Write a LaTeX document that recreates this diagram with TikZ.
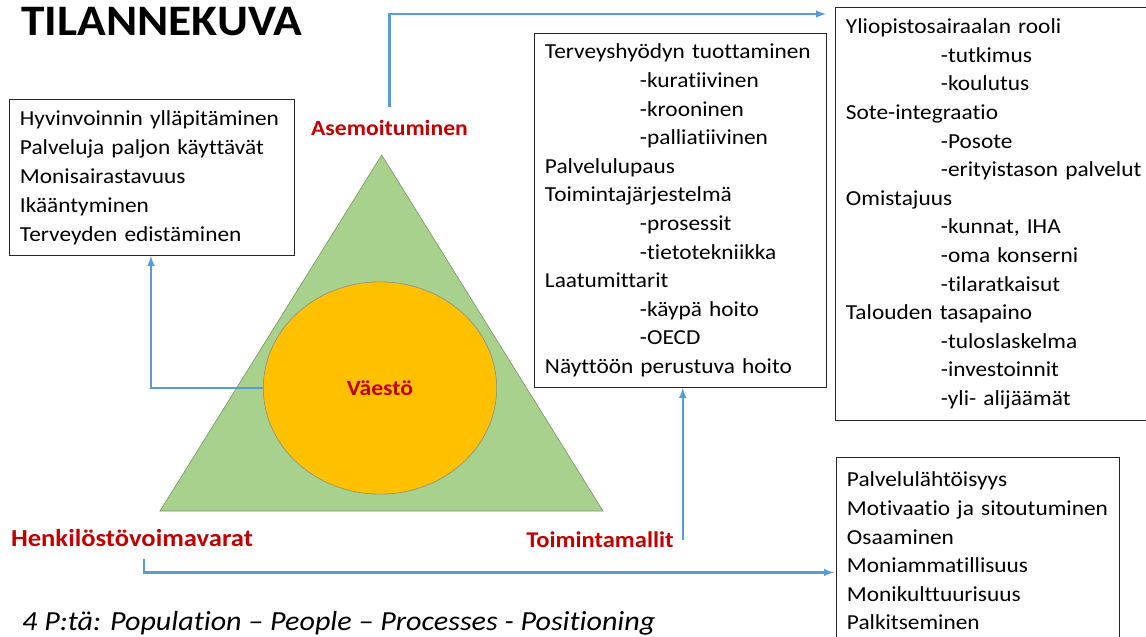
\documentclass[tikz,border=0pt]{standalone}
\usepackage{fontspec}
\setmainfont{Carlito}[FakeStretch=1.09,Ligatures={TeX,NoCommon}]
\usetikzlibrary{shapes.geometric}
\definecolor{labelred}{HTML}{C00000}
\definecolor{linkblue}{HTML}{5B9BD5}
\definecolor{trigreen}{HTML}{A9D18E}
\definecolor{popgold}{HTML}{FFC000}
\newcommand{\subline}{\hspace*{95pt}}

\begin{document}
\begin{tikzpicture}[x=1pt,y=-1pt,
    listbox/.style={draw=black!85,line width=0.9pt,fill=white,anchor=north west,align=left,
      inner xsep=10.5pt,inner ysep=0pt,font=\fontsize{21.4}{28.6}\selectfont},
    pee/.style={text=labelred,inner sep=0pt,font=\fontsize{21.7}{26}\selectfont\bfseries},
    flow/.style={draw=linkblue,line width=2.4pt,->,>=latex}]
    \path[use as bounding box,fill=white] (0,0) rectangle (1146,637);
    \clip (0,0) rectangle (1146,637);

    % title and footer
    \node[anchor=west,inner sep=0pt,font=\fontsize{43.5}{50}\selectfont\bfseries] (title) at (21,21.5) {TILANNEKUVA};
    \node[anchor=base west,inner sep=0pt,font=\fontsize{27.6}{30}\selectfont\itshape] (footer) at (22,630)
        {4 P:tä: Population -- People -- Processes - Positioning};

    % triangle with the population in the middle
    \draw[fill=trigreen,draw=trigreen!70!black,line width=0.6pt] (381.7,155) -- (603,511) -- (160,511) -- cycle;
    \node[ellipse,fill=popgold,draw=black!45,line width=0.6pt,minimum width=233.4pt,minimum height=212.3pt,
        text=labelred,font=\fontsize{21.7}{26}\selectfont\bfseries] (vaesto) at (380,388) {Väestö};

    % corner labels
    \node[pee] (asemo) at (389.5,128) {Asemoituminen};
    \node[pee,font=\fontsize{24.4}{28}\selectfont\bfseries] (henk) at (132,538) {Henkilöstövoimavarat};
    \node[pee,font=\fontsize{22.5}{26}\selectfont\bfseries] (toim) at (600,540) {Toimintamallit};

    % lists
    \node[listbox,text width=264pt,minimum height=156pt,font=\fontsize{21.4}{29}\selectfont] (pop) at (9,99)
        {Hyvinvoinnin ylläpitäminen\\
        Palveluja paljon käyttävät\\
        Monisairastavuus\\
        Ikääntyminen\\
        Terveyden edistäminen};
    \node[listbox,text width=271pt,minimum height=354pt] (proc) at (534,33) {Terveyshyödyn tuottaminen\\
        \subline-kuratiivinen\\
        \subline-krooninen\\
        \subline-palliatiivinen\\
        Palvelulupaus\\
        Toimintajärjestelmä\\
        \subline-prosessit\\
        \subline-tietotekniikka\\
        Laatumittarit\\
        \subline-käypä hoito\\
        \subline-OECD\\
        Näyttöön perustuva hoito};
    \node[listbox,text width=330pt,minimum height=413pt] (roles) at (835,7) {Yliopistosairaalan rooli\\
        \subline-tutkimus\\
        \subline-koulutus\\
        Sote-integraatio\\
        \subline-Posote\\
        \subline-erityistason palvelut\\
        Omistajuus\\
        \subline-kunnat, IHA\\
        \subline-oma konserni\\
        \subline-tilaratkaisut\\
        Talouden tasapaino\\
        \subline-tuloslaskelma\\
        \subline-investoinnit\\
        \subline-yli- alijäämät};
    \node[listbox,text width=262pt,minimum height=187pt] (people) at (836,457) {Palvelulähtöisyys\\
        Motivaatio ja sitoutuminen\\
        Osaaminen\\
        Moniammatillisuus\\
        Monikulttuurisuus\\
        Palkitseminen};

    % connectors
    \draw[flow] ([yshift=13pt]asemo.north) |- ([shift={(-9pt,-7pt)}]roles.north west);
    \draw[flow] (vaesto.west) -| ([xshift=142pt]pop.south west);
    \draw[flow] ([xshift=9pt]toim.east) -- ([xshift=9pt]toim.east |- proc.south);
    \draw[flow] ([xshift=12pt,yshift=-12pt]henk.south) |- ([shift={(-2pt,-21.5pt)}]people.west);
\end{tikzpicture}
\end{document}
